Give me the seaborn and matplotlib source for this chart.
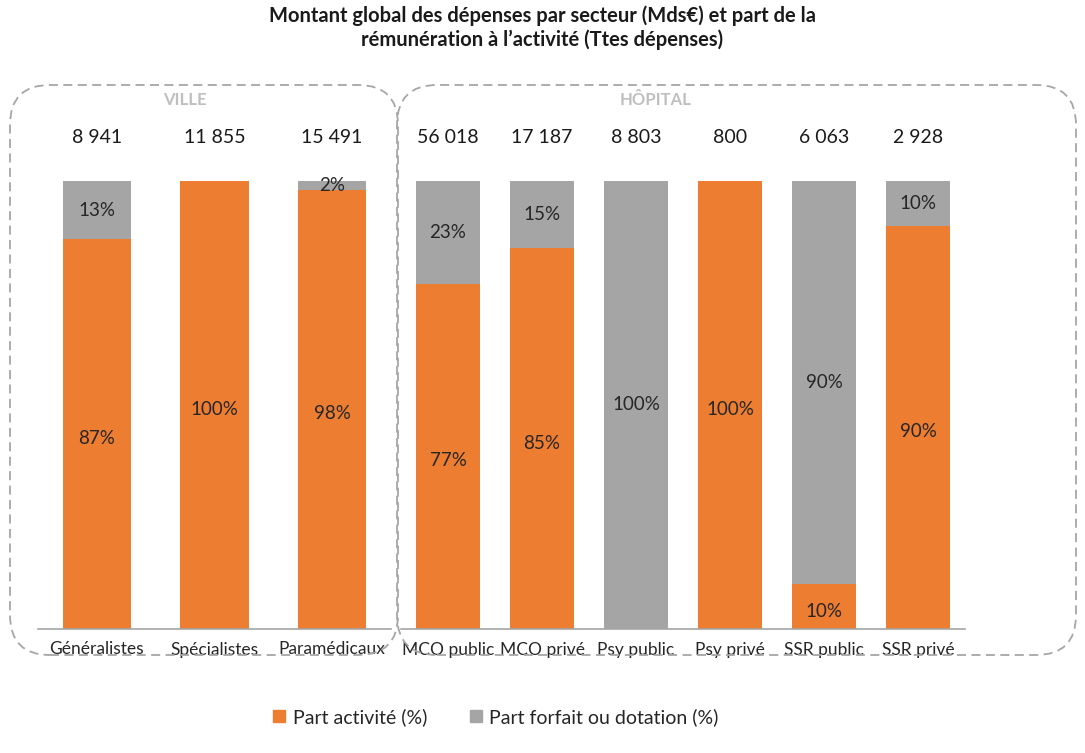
import pandas as pd
import matplotlib.pyplot as plt
import seaborn as sns
from matplotlib.patches import FancyBboxPatch, Patch
from matplotlib.transforms import IdentityTransform

ville_secteurs = ['Généralistes', 'Spécialistes', 'Paramédicaux']
ville_montants = ['8 941', '11 855', '15 491']
ville_activite = [87, 100, 98]
ville_forfait = [13, 0, 2]

hop_secteurs = ['MCO public', 'MCO privé', 'Psy public', 'Psy privé', 'SSR public', 'SSR privé']
hop_montants = ['56 018', '17 187', '8 803', '800', '6 063', '2 928']
hop_activite = [77, 85, 0, 100, 10, 90]
hop_forfait = [23, 15, 100, 0, 90, 10]

ORANGE = '#ED7D31'
GRIS = '#A5A5A5'

sns.set_style('white')
plt.rcParams['font.family'] = ['Lato', 'DejaVu Sans']

fig = plt.figure(figsize=(10.85, 7.53), dpi=100)
ax_v = fig.add_axes([38 / 1085, 124 / 753, 353 / 1085, 448 / 753])
ax_h = fig.add_axes([401 / 1085, 124 / 753, 564 / 1085, 448 / 753])


def dessiner(ax, secteurs, montants, activite, forfait, largeur, titre, titre_x):
    df = pd.DataFrame({'secteur': secteurs, 'activite': activite, 'forfait': forfait})
    df['total'] = df['activite'] + df['forfait']
    sns.barplot(data=df, x='secteur', y='total', color=GRIS, width=largeur,
                saturation=1, linewidth=0, ax=ax)
    sns.barplot(data=df, x='secteur', y='activite', color=ORANGE, width=largeur,
                saturation=1, linewidth=0, ax=ax)
    for i, (a, f, m) in enumerate(zip(activite, forfait, montants)):
        if a > 0:
            ax.text(i, a / 2 - 1, f'{a}%', ha='center', va='center', fontsize=13.5, color='#262626')
        if f > 0:
            ax.text(i, a + f / 2, f'{f}%', ha='center', va='center', fontsize=13.5, color='#262626')
        ax.text(i, 109.8, m, ha='center', va='center', fontsize=14, color='#1a1a1a', clip_on=False)
    ax.set_ylim(0, 100)
    ax.set_xlim(-0.5, len(secteurs) - 0.5)
    ax.set_xlabel('')
    ax.set_ylabel('')
    ax.set_yticks([])
    ax.tick_params(axis='x', length=0, pad=9, labelsize=12.5, labelcolor='#262626')
    sns.despine(ax=ax, left=True)
    ax.spines['bottom'].set_color('#a6a6a6')
    ax.spines['bottom'].set_linewidth(1.2)
    fig.text(titre_x / 1085, 1 - 100 / 753, titre, ha='center', va='center',
             fontsize=12, fontweight='bold', color='#bfbfbf')


dessiner(ax_v, ville_secteurs, ville_montants, ville_activite, ville_forfait, 0.58, 'VILLE', 185)
dessiner(ax_h, hop_secteurs, hop_montants, hop_activite, hop_forfait, 0.68, 'HÔPITAL', 656)

# cadres pointillés arrondis
for x0, x1 in [(10, 398), (397, 1076)]:
    cadre = FancyBboxPatch((x0 + 40, 98 + 40), x1 - x0 - 80, 570 - 80,
                           boxstyle='round,pad=40', transform=IdentityTransform(),
                           fill=False, edgecolor='#a6a6a6', linestyle=(0, (5, 3)),
                           linewidth=1.3)
    fig.patches.append(cadre)

fig.text(0.5, 1 - 16 / 753, 'Montant global des dépenses par secteur (Mds€) et part de la',
         ha='center', va='center', fontsize=14.5, fontweight='bold', color='#1a1a1a')
fig.text(0.5, 1 - 40 / 753, 'rémunération à l\u2019activité (Ttes dépenses)',
         ha='center', va='center', fontsize=14.5, fontweight='bold', color='#1a1a1a')

handles = [Patch(color=ORANGE, label='Part activité (%)'),
           Patch(color=GRIS, label='Part forfait ou dotation (%)')]
fig.legend(handles=handles, loc='center', bbox_to_anchor=(496 / 1085, 1 - 717 / 753), ncol=2,
           frameon=False, fontsize=14, handlelength=0.6, handleheight=0.6,
           handletextpad=0.4, columnspacing=2.2)

fig.savefig('out.png', dpi=100)
